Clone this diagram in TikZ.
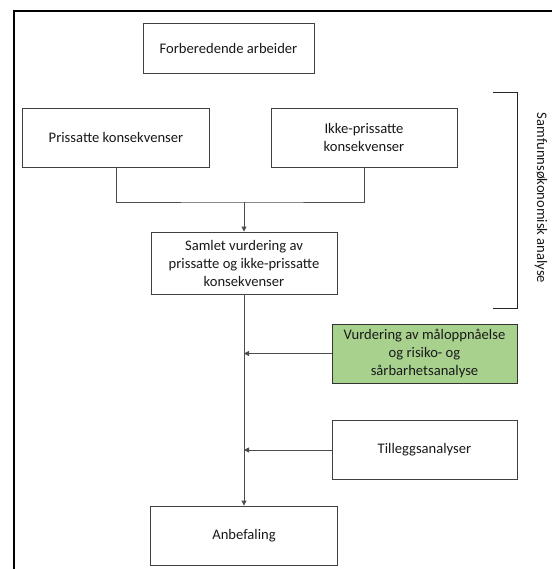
\documentclass[tikz,border=0pt]{standalone}
\usepackage{fontspec}
\setmainfont{Carlito}
\usepackage{tikz}
\usetikzlibrary{positioning, calc, arrows.meta}
\definecolor{leafgreen}{HTML}{A9D18E}

\begin{document}
\begin{tikzpicture}[
        x=1pt, y=-1pt,
        every node/.style={font=\fontsize{14.6}{18}\selectfont, text=black!90},
        box/.style={draw=black!75, line width=0.9pt, fill=white, align=center, inner sep=2pt},
        greenbox/.style={box, fill=leafgreen, draw=black!80},
        link/.style={draw=black!70, line width=0.9pt},
        arrow/.style={link, -{Triangle[length=5pt, width=5pt]}}
    ]
    \useasboundingbox (0,0) rectangle (551,569);
    % outer frame
    \draw[line width=2.6pt] (14,600) -- (14,11) -- (600,11);
    % boxes
    \node[box, minimum width=171pt, minimum height=50pt] (prep) at (228.5,48) {Forberedende arbeider};
    \node[box, minimum width=187pt, minimum height=59pt] (priced) at (116,137.5) {Prissatte konsekvenser};
    \node[box, minimum width=186pt, minimum height=59pt] (unpriced) at (364,137.5) {Ikke-prissatte\\konsekvenser};
    \node[box, minimum width=186pt, minimum height=62pt] (overall) at (244,263) {Samlet vurdering av\\prissatte og ikke-prissatte\\konsekvenser};
    \node[greenbox, minimum width=185pt, minimum height=59pt] (goal) at (424.5,353.5) {Vurdering av måloppnåelse\\og risiko- og\\sårbarhetsanalyse};
    \node[box, minimum width=185pt, minimum height=59pt] (extra) at (424.5,450) {Tilleggsanalyser};
    \node[box, minimum width=187pt, minimum height=59pt] (rec) at (244,535.5) {Anbefaling};
    % connectors
    \coordinate (merge) at (244,202);
    \draw[link] (priced.south) |- (merge) -| (unpriced.south);
    \draw[arrow] (merge) -- (overall.north);
    \draw[arrow] (overall.south) -- (rec.north);
    \draw[arrow] (goal.west) -- (goal.west -| overall.south);
    \draw[arrow] (extra.west) -- (extra.west -| overall.south);
    % bracket
    \coordinate (brtop) at (493,92);
    \coordinate (brbot) at (493,308);
    \draw[link, draw=black!85] (brtop) -- ++(24,0) |- (brbot);
    \node[rotate=-90] (sea) at (541,198) {Samfunnsøkonomisk analyse};
\end{tikzpicture}
\end{document}
